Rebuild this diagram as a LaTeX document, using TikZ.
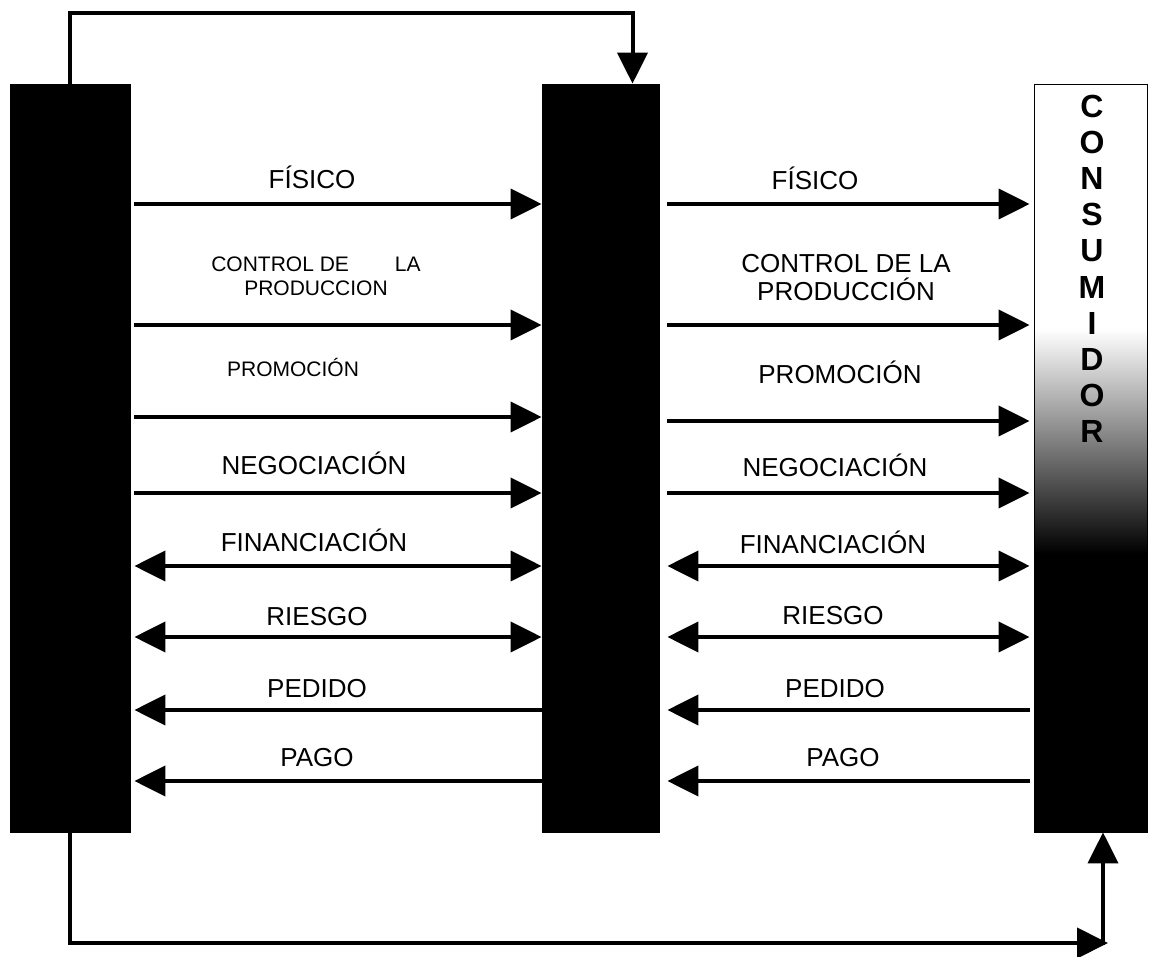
\documentclass[tikz,border=0pt]{standalone}
\usepackage{fontspec}
\setmainfont{Liberation Sans}
\usetikzlibrary{arrows.meta,calc}
\begin{document}
\begin{tikzpicture}[x=1pt,y=-1pt,
  bar/.style={draw=black, fill=black, minimum width=#1, minimum height=748pt, inner sep=0pt, line width=0.8pt},
  tip/.tip={Triangle[length=31pt,width=30pt]},
  flow/.style={line width=4pt, -tip},
  back/.style={line width=4pt, -tip},
  both/.style={line width=4pt, tip-tip},
  link/.style={line width=4pt},
  lbl/.style={font=\fontsize{26}{28}\selectfont, inner sep=0pt, anchor=base},
  lbls/.style={font=\fontsize{21}{23}\selectfont, inner sep=0pt, anchor=base},
  two/.style={inner sep=0pt, align=center},
  cons/.style={font=\bfseries\fontsize{32}{34}\selectfont, inner sep=0pt},
  lgap/.style={shorten <=4pt},
  rgap/.style={shorten <=8pt, shorten >=4pt},
  rgapb/.style={shorten <=4pt, shorten >=8pt},
]
\useasboundingbox (0,0) rectangle (1152,957);

% bars
\node[bar=120pt] (L) at (70,458) {};
\node[bar=117pt] (M) at (600.5,458) {};
\node[draw=black, line width=0.8pt, minimum width=113pt, minimum height=748pt, inner sep=0pt,
  path picture={
    \fill[white] (path picture bounding box.north west) rectangle ($(path picture bounding box.north east)+(0,246)$);
    \shade[top color=white, middle color=gray!55, bottom color=black]
      ($(path picture bounding box.north west)+(0,245)$) rectangle ($(path picture bounding box.north east)+(0,470)$);
    \fill[black] ($(path picture bounding box.north west)+(0,469)$) rectangle (path picture bounding box.south east);
  }] (R) at (1090.5,458) {};

\foreach \ch [count=\i] in {C,O,N,S,U,M,I,D,O,R}
  \node[cons] (c\i) at (1092,{106+36.2*(\i-1)}) {\ch};

% row coordinates
\coordinate (r1) at (0,204);
\coordinate (r2) at (0,325);
\coordinate (r3l) at (0,417);
\coordinate (r3r) at (0,421);
\coordinate (r4) at (0,493);
\coordinate (r5) at (0,566);
\coordinate (r6) at (0,637);
\coordinate (r7) at (0,710);
\coordinate (r8) at (0,781);

% left section arrows
\draw[flow, lgap] (L.east |- r1) -- (M.west |- r1);
\draw[flow, lgap] (L.east |- r2) -- (M.west |- r2);
\draw[flow, lgap] (L.east |- r3l) -- (M.west |- r3l);
\draw[flow, lgap] (L.east |- r4) -- (M.west |- r4);
\draw[both, lgap] (L.east |- r5) -- (M.west |- r5);
\draw[both, lgap] (L.east |- r6) -- (M.west |- r6);
\draw[back, shorten >=4pt] (M.west |- r7) -- (L.east |- r7);
\draw[back, shorten >=4pt] (M.west |- r8) -- (L.east |- r8);

% right section arrows
\draw[flow, rgap] (M.east |- r1) -- (R.west |- r1);
\draw[flow, rgap] (M.east |- r2) -- (R.west |- r2);
\draw[flow, rgap] (M.east |- r3r) -- (R.west |- r3r);
\draw[flow, rgap] (M.east |- r4) -- (R.west |- r4);
\draw[both, rgap] (M.east |- r5) -- (R.west |- r5);
\draw[both, rgap] (M.east |- r6) -- (R.west |- r6);
\draw[back, rgapb] (R.west |- r7) -- (M.east |- r7);
\draw[back, rgapb] (R.west |- r8) -- (M.east |- r8);

% left labels
\node[lbl] (l1) at (312,189) {FÍSICO};
\node[two, font=\fontsize{21}{24}\selectfont] (l2) at (316,276) {CONTROL DE\hspace{46pt}LA\\PRODUCCION};
\node[lbls] (l3) at (293,377) {PROMOCIÓN};
\node[lbl] (l4) at (314,475) {NEGOCIACIÓN};
\node[lbl] (l5) at (314,551) {FINANCIACIÓN};
\node[lbl] (l6) at (317,625) {RIESGO};
\node[lbl] (l7) at (317,697) {PEDIDO};
\node[lbl] (l8) at (317,766) {PAGO};

% right labels
\node[lbl] (q1) at (815,190) {FÍSICO};
\node[two, font=\fontsize{26}{28}\selectfont] (q2) at (846,278) {CONTROL DE LA\\PRODUCCIÓN};
\node[lbl] (q3) at (840,384) {PROMOCIÓN};
\node[lbl] (q4) at (835,477) {NEGOCIACIÓN};
\node[lbl] (q5) at (833,554) {FINANCIACIÓN};
\node[lbl] (q6) at (833,624) {RIESGO};
\node[lbl] (q7) at (835,697) {PEDIDO};
\node[lbl] (q8) at (843,766) {PAGO};

% top loop
\coordinate (tp) at (0,13);
\draw[link, -tip] (L.north) -- (L.north |- tp) -| ([xshift=32pt]M.north);

% bottom loop
\coordinate (bc) at (1108,943);
\coordinate (bv) at (1103,945);
\draw[link, -tip] (L.south) |- (bc);
\draw[link, -tip] (bv) -- (bv |- R.south);
\end{tikzpicture}
\end{document}
